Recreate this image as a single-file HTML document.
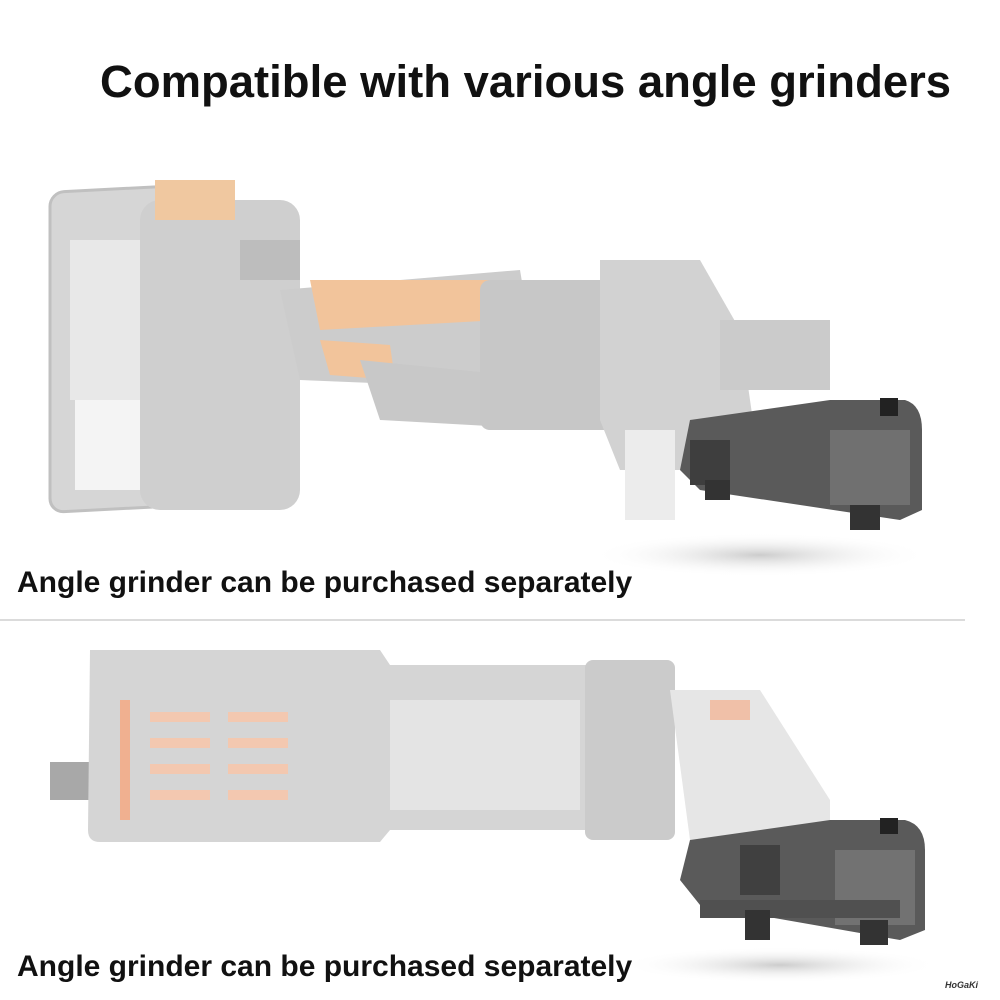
<!DOCTYPE html>
<html><head><style>
body{margin:0;width:1000px;height:1000px;background:#fff;position:relative;overflow:hidden;font-family:"Liberation Sans",sans-serif}
.t{position:absolute;font-weight:bold;color:#111;white-space:nowrap}
</style></head><body>
<svg width="1000" height="1000" style="position:absolute;left:0;top:0">
<defs>
<radialGradient id="sh"><stop offset="0" stop-color="#ccc"/><stop offset="1" stop-color="#fff" stop-opacity="0"/></radialGradient>
</defs>
<ellipse cx="760" cy="555" rx="170" ry="22" fill="url(#sh)"/>
<rect x="50" y="195" width="120" height="320" rx="14" fill="#d6d6d6" stroke="#c0c0c0" stroke-width="3" transform="skewY(-3)"/>
<rect x="70" y="240" width="85" height="160" fill="#e8e8e8"/>
<rect x="75" y="400" width="80" height="90" fill="#f4f4f4"/>
<rect x="140" y="200" width="160" height="310" rx="20" fill="#cfcfcf"/>
<rect x="155" y="180" width="80" height="40" fill="#f0c8a0"/>
<rect x="240" y="240" width="60" height="40" fill="#bdbdbd"/>
<path d="M280 290 L520 270 L540 390 L300 380 Z" fill="#cccccc"/>
<path d="M310 280 L500 280 L500 320 L320 330 Z" fill="#f2c49b"/>
<path d="M320 340 L390 345 L395 380 L330 375 Z" fill="#f2c49b"/>
<path d="M360 360 L560 380 L560 430 L380 420 Z" fill="#c8c8c8"/>
<rect x="480" y="280" width="140" height="150" rx="10" fill="#c7c7c7"/>
<path d="M600 260 L700 260 L740 330 L760 470 L620 470 L600 420 Z" fill="#d2d2d2"/>
<rect x="720" y="320" width="110" height="70" fill="#cbcbcb"/>
<rect x="625" y="430" width="50" height="90" fill="#ececec"/>
<path d="M690 420 L830 400 L905 400 Q922 405 922 430 L922 510 L900 520 L700 490 L680 470 Z" fill="#5a5a5a"/>
<rect x="880" y="398" width="18" height="18" fill="#222"/>
<rect x="830" y="430" width="80" height="75" fill="#707070"/>
<rect x="690" y="440" width="40" height="45" fill="#3e3e3e"/>
<rect x="705" y="480" width="25" height="20" fill="#333"/>
<rect x="850" y="505" width="30" height="25" fill="#333"/>
<line x1="0" y1="620" x2="965" y2="620" stroke="#cfcfcf" stroke-width="1.5"/>
<ellipse cx="780" cy="965" rx="160" ry="18" fill="url(#sh)"/>
<rect x="50" y="762" width="50" height="38" fill="#a8a8a8"/>
<path d="M90 650 L380 650 L390 665 L590 665 L590 830 L390 830 L380 842 L100 842 Q88 842 88 830 Z" fill="#d5d5d5"/>
<rect x="120" y="700" width="10" height="120" fill="#f0b090"/>
<g fill="#f3c8b0">
<rect x="150" y="712" width="60" height="10"/><rect x="228" y="712" width="60" height="10"/>
<rect x="150" y="738" width="60" height="10"/><rect x="228" y="738" width="60" height="10"/>
<rect x="150" y="764" width="60" height="10"/><rect x="228" y="764" width="60" height="10"/>
<rect x="150" y="790" width="60" height="10"/><rect x="228" y="790" width="60" height="10"/>
</g>
<rect x="390" y="700" width="190" height="110" fill="#e4e4e4"/>
<rect x="585" y="660" width="90" height="180" rx="8" fill="#cbcbcb"/>
<path d="M670 690 L760 690 L830 800 L830 840 L690 840 Z" fill="#e6e6e6"/>
<rect x="710" y="700" width="40" height="20" fill="#f0c0a8"/>
<path d="M690 840 L830 820 L905 820 Q925 825 925 850 L925 930 L900 940 L700 905 L680 880 Z" fill="#5a5a5a"/>
<rect x="880" y="818" width="18" height="16" fill="#222"/>
<rect x="835" y="850" width="80" height="75" fill="#727272"/>
<rect x="740" y="845" width="40" height="50" fill="#404040"/>
<rect x="700" y="900" width="200" height="18" fill="#505050"/>
<rect x="745" y="910" width="25" height="30" fill="#333"/>
<rect x="860" y="920" width="28" height="25" fill="#333"/>
</svg>
<div class="t" style="left:100px;top:56px;font-size:45px;transform:scaleX(1.01);transform-origin:left">Compatible with various angle grinders</div>
<div class="t" style="left:17px;top:566px;font-size:30px">Angle grinder can be purchased separately</div>
<div class="t" style="left:17px;top:950px;font-size:30px">Angle grinder can be purchased separately</div>
<div class="t" style="left:945px;top:980px;font-size:9px;font-style:italic;color:#333">HoGaKi</div>
</body></html>
